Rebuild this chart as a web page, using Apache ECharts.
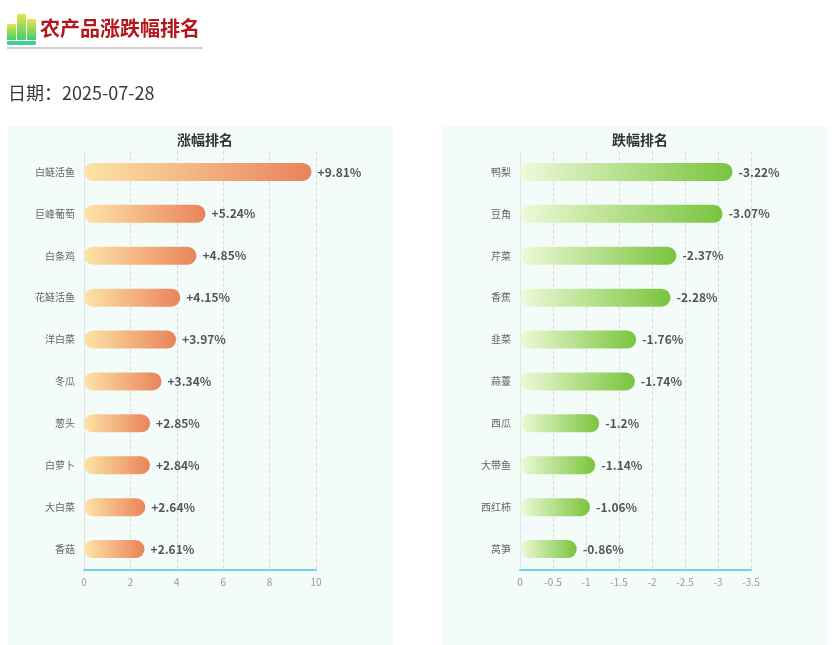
<!DOCTYPE html>
<html>
<head>
<meta charset="utf-8">
<script src="https://cdn.jsdelivr.net/npm/echarts@6/dist/echarts.min.js"></script>
<style>
html,body{margin:0;padding:0;background:#fff;width:840px;height:645px;overflow:hidden;font-family:"Noto Sans CJK SC","Noto Sans",sans-serif;}
#chart{position:absolute;left:0;top:0;width:840px;height:645px;}
.b{position:absolute;background:linear-gradient(to bottom,#e8e34a,#3fcf6a);border-radius:1px 1px 0 0;}
#base{position:absolute;left:7px;top:41px;width:29px;height:4px;background:#3fcf9a;border-radius:1px;}
#uline{position:absolute;left:7px;top:47px;width:196px;height:2px;background:#cfcfcf;}
#ttl{position:absolute;left:40px;top:13px;font-size:20px;font-weight:bold;color:#b3161b;white-space:nowrap;line-height:30px;}
#date{position:absolute;left:8px;top:79px;font-size:18px;color:#3a3a3a;line-height:26px;white-space:nowrap;}
</style>
</head>
<body>
<div id="chart"></div>
<div class="b" style="left:7px;top:24px;width:9px;height:16px;"></div>
<div class="b" style="left:17px;top:14px;width:9px;height:26px;"></div>
<div class="b" style="left:27px;top:19px;width:9px;height:21px;"></div>
<div id="base"></div>
<div id="ttl">农产品涨跌幅排名</div>
<div id="uline"></div>
<div id="date">日期：2025-07-28</div>
<script>
const riseCategories = ['白鲢活鱼','巨峰葡萄','白条鸡','花鲢活鱼','洋白菜','冬瓜','葱头','白萝卜','大白菜','香菇'];
const riseValues = [9.81, 5.24, 4.85, 4.15, 3.97, 3.34, 2.85, 2.84, 2.64, 2.61];
const fallCategories = ['鸭梨','豆角','芹菜','香蕉','韭菜','蒜薹','西瓜','大带鱼','西红柿','莴笋'];
const fallValues = [-3.22, -3.07, -2.37, -2.28, -1.76, -1.74, -1.2, -1.14, -1.06, -0.86];

const chart = echarts.init(document.getElementById('chart'));
const font = '"Noto Sans CJK SC","Noto Sans",sans-serif';

function xAxisCfg(gi, extra) {
  return Object.assign({
    type: 'value', gridIndex: gi,
    axisLine: { show: true, lineStyle: { color: '#6fd3ea', width: 2 } },
    axisTick: { show: false },
    axisLabel: { color: '#999', fontSize: 10, margin: 7, fontFamily: font },
    splitLine: { show: true, lineStyle: { color: '#dcdcdc', type: 'dashed' } }
  }, extra);
}
function yAxisCfg(gi, data) {
  return {
    type: 'category', gridIndex: gi, data: data, inverse: true,
    axisLine: { show: true, lineStyle: { color: '#dde3e6', width: 1 } },
    axisTick: { show: false },
    axisLabel: { color: '#666', fontSize: 10, margin: 9, fontFamily: font }
  };
}
function barSeries(gi, values, c0, c1, fmt) {
  return {
    type: 'bar', xAxisIndex: gi, yAxisIndex: gi, data: values, barWidth: 18,
    itemStyle: {
      borderRadius: 9,
      color: new echarts.graphic.LinearGradient(0, 0, 1, 0, [
        { offset: 0, color: c0 }, { offset: 1, color: c1 }
      ])
    },
    label: {
      show: true, position: 'right', distance: 6, color: '#555', fontSize: 12,
      fontWeight: 'bold', fontFamily: font, formatter: fmt
    }
  };
}

chart.setOption({
  animation: false,
  graphic: [
    { type: 'rect', shape: { x: 8, y: 126, width: 385, height: 519 }, style: { fill: '#f4fcfa' }, z: -10 },
    { type: 'rect', shape: { x: 443, y: 126, width: 385, height: 519 }, style: { fill: '#f4fcfa' }, z: -10 }
  ],
  title: [
    { text: '涨幅排名', left: 200, top: 128, textAlign: 'center',
      textStyle: { fontSize: 14, fontWeight: 'bold', color: '#333', fontFamily: font } },
    { text: '跌幅排名', left: 635, top: 128, textAlign: 'center',
      textStyle: { fontSize: 14, fontWeight: 'bold', color: '#333', fontFamily: font } }
  ],
  grid: [
    { left: 84, top: 151, width: 232, height: 419 },
    { left: 520, top: 151, width: 231, height: 419 }
  ],
  xAxis: [
    xAxisCfg(0, { min: 0, max: 10, interval: 2 }),
    xAxisCfg(1, { min: -3.5, max: 0, interval: 0.5, inverse: true })
  ],
  yAxis: [ yAxisCfg(0, riseCategories), yAxisCfg(1, fallCategories) ],
  series: [
    barSeries(0, riseValues, '#fde4a8', '#e9835a', p => '+' + p.value + '%'),
    barSeries(1, fallValues, '#eefad9', '#7ac43d', p => p.value + '%')
  ]
});
</script>
</body>
</html>
